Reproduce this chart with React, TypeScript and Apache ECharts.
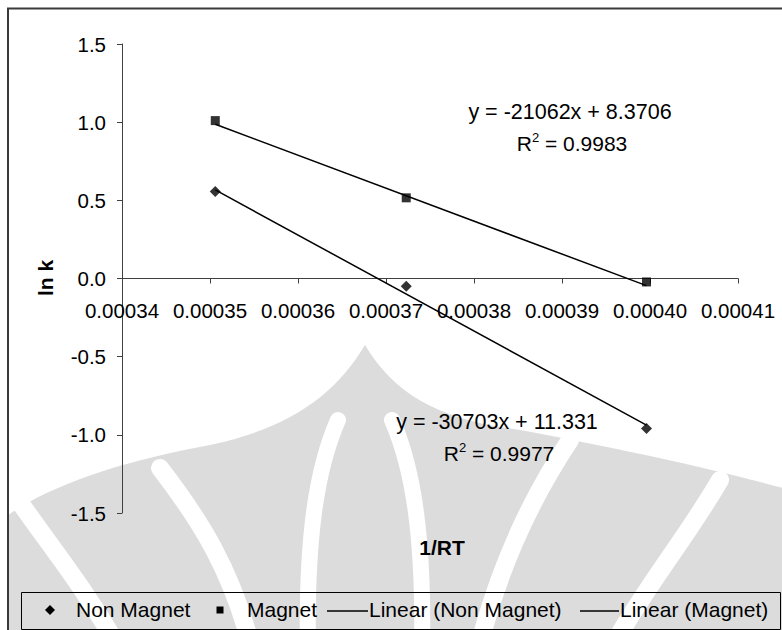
import React, { useEffect, useRef } from "react";
import * as echarts from "echarts";

// 1/RT values and ln k readings for both runs
const xNonMagnet = [0.0003506, 0.0003723, 0.0003996];
const yNonMagnet = [0.556, -0.05, -0.96];
const xMagnet = [0.0003506, 0.0003723, 0.0003996];
const yMagnet = [1.01, 0.516, -0.022];

const seriesNames = ["Non Magnet", "Magnet", "Linear (Non Magnet)", "Linear (Magnet)"];

// least-squares fits shown on the chart
const fitNonMagnet = { slope: -30703, intercept: 11.331, r2: "0.9977" };
const fitMagnet = { slope: -21062, intercept: 8.3706, r2: "0.9983" };

// axis ranges and tick steps
const xRange = [0.00034, 0.00041];
const xStep = 0.00001;
const yRange = [-1.5, 1.5];
const yStep = 0.5;

const axisTitleX = "1/RT";
const axisTitleY = "ln k";

const FONT = "'Liberation Sans', Arial, Helvetica, sans-serif";
const WM = "#dcdcdc";

// plot box in pixels
const GRID = { left: 122, right: 44, top: 44, bottom: 117 };
const CHART_H = 630;

// faint emblem drawn behind the plot
const emblemBase =
  "M8,515 C60,480 130,460 210,445 C290,428 335,395 365,345 C395,395 440,420 520,430 C600,445 700,465 790,490 L790,640 L8,640 Z";

function fitLine(fit: { slope: number; intercept: number }, xs: number[]) {
  const lo = Math.min(...xs);
  const hi = Math.max(...xs);
  return [lo, hi].map((x) => [x, fit.slope * x + fit.intercept]);
}

function equation(fit: { slope: number; intercept: number }) {
  return `y = ${fit.slope}x + ${fit.intercept}`;
}

function band(
  x1: number, y1: number, cx1: number, cy1: number,
  cx2: number, cy2: number, x2: number, y2: number, w: number
) {
  return {
    type: "bezierCurve",
    z: 0,
    silent: true,
    shape: { x1, y1, cpx1: cx1, cpy1: cy1, cpx2: cx2, cpy2: cy2, x2, y2 },
    style: { stroke: "#ffffff", lineWidth: w, fill: null, lineCap: "round" },
  };
}

export default function App() {
  const ref = useRef<HTMLDivElement>(null);

  useEffect(() => {
    if (!ref.current) return;
    echarts.graphic.registerShape("emblemBase", echarts.graphic.extendPath(emblemBase, {}));
    const chart = echarts.init(ref.current, undefined, { renderer: "svg" });

    const textStyle = { fontFamily: FONT, fontSize: 21, fill: "#000" };
    const rich = {
      a: { fontFamily: FONT, fontSize: 21, color: "#000", lineHeight: 24 },
      s: { fontFamily: FONT, fontSize: 13, color: "#000", verticalAlign: "top", lineHeight: 24, padding: [0, 0, 8, 0] },
    };

    // the x axis crosses at y = 0, so lift it from the bottom edge of the plot
    const plotH = CHART_H - GRID.top - GRID.bottom;
    const zeroOffset = -plotH * (0 - yRange[0]) / (yRange[1] - yRange[0]);

    const legendY = 610;

    const option: any = {
      animation: false,
      backgroundColor: "#ffffff",
      textStyle: { fontFamily: FONT },
      grid: { ...GRID, containLabel: false, outerBoundsMode: "none" },
      xAxis: {
        type: "value",
        min: xRange[0],
        max: xRange[1],
        interval: xStep,
        offset: zeroOffset,
        axisLine: { onZero: false, lineStyle: { color: "#404040", width: 1 } },
        axisTick: { show: true, length: 5, lineStyle: { color: "#404040" } },
        axisLabel: {
          formatter: (v: number) => v.toFixed(5),
          fontSize: 20.5,
          color: "#000",
          margin: 21,
          fontFamily: FONT,
          showMinLabel: true,
          showMaxLabel: true,
        },
        splitLine: { show: false },
      },
      yAxis: {
        type: "value",
        min: yRange[0],
        max: yRange[1],
        interval: yStep,
        axisLine: { show: true, onZero: false, lineStyle: { color: "#404040", width: 1 } },
        axisTick: { show: true, length: 5, lineStyle: { color: "#404040" } },
        axisLabel: {
          formatter: (v: number) => v.toFixed(1),
          fontSize: 20.5,
          color: "#000",
          margin: 16,
          fontFamily: FONT,
        },
        splitLine: { show: false },
      },
      series: [
        {
          name: seriesNames[2],
          type: "line",
          data: fitLine(fitNonMagnet, xNonMagnet),
          showSymbol: false,
          silent: true,
          z: 3,
          lineStyle: { color: "#000", width: 1.5 },
        },
        {
          name: seriesNames[3],
          type: "line",
          data: fitLine(fitMagnet, xMagnet),
          showSymbol: false,
          silent: true,
          z: 3,
          lineStyle: { color: "#000", width: 1.5 },
        },
        {
          name: seriesNames[0],
          type: "scatter",
          data: xNonMagnet.map((x, i) => [x, yNonMagnet[i]]),
          symbol: "diamond",
          symbolSize: 11,
          z: 4,
          itemStyle: { color: "#000" },
        },
        {
          name: seriesNames[1],
          type: "scatter",
          data: xMagnet.map((x, i) => [x, yMagnet[i]]),
          symbol: "rect",
          symbolSize: 9,
          z: 4,
          itemStyle: { color: "#000" },
        },
      ],
      graphic: {
        elements: [
          // emblem
          { type: "emblemBase", z: 0, silent: true, style: { fill: WM } },
          band(338, 420, 316, 470, 306, 540, 308, 650, 16),
          band(392, 420, 414, 470, 424, 540, 422, 650, 16),
          band(160, 468, 200, 520, 232, 570, 252, 650, 18),
          band(570, 440, 530, 500, 498, 570, 478, 650, 18),
          band(10, 488, 45, 540, 80, 580, 120, 650, 18),
          band(720, 480, 685, 540, 650, 580, 610, 650, 18),
          // chart frame
          {
            type: "rect",
            z: 1,
            silent: true,
            shape: { x: 8, y: 8.5, width: 800, height: 660 },
            style: { fill: null, stroke: "#3a3a3a", lineWidth: 2 },
          },
          // axis titles
          {
            type: "text",
            z: 5,
            x: 45,
            y: 278,
            rotation: Math.PI / 2,
            style: { ...textStyle, fontWeight: "bold", text: axisTitleY, align: "center", verticalAlign: "middle" },
          },
          {
            type: "text",
            z: 5,
            x: 442,
            y: 547,
            style: { ...textStyle, fontWeight: "bold", text: axisTitleX, align: "center", verticalAlign: "middle" },
          },
          // fit labels
          {
            type: "text",
            z: 5,
            x: 570,
            y: 112,
            style: { ...textStyle, fontSize: 21.5, text: equation(fitMagnet), align: "center", verticalAlign: "middle" },
          },
          {
            type: "text",
            z: 5,
            x: 572,
            y: 143,
            style: { text: `{a|R}{s|2}{a| = ${fitMagnet.r2}}`, rich, align: "center", verticalAlign: "middle" },
          },
          {
            type: "text",
            z: 5,
            x: 497,
            y: 422,
            style: { ...textStyle, fontSize: 21.5, text: equation(fitNonMagnet), align: "center", verticalAlign: "middle" },
          },
          {
            type: "text",
            z: 5,
            x: 499,
            y: 453,
            style: { text: `{a|R}{s|2}{a| = ${fitNonMagnet.r2}}`, rich, align: "center", verticalAlign: "middle" },
          },
          // legend
          {
            type: "rect",
            z: 5,
            silent: true,
            shape: { x: 21.5, y: 592.5, width: 759, height: 37 },
            style: { fill: null, stroke: "#000", lineWidth: 1 },
          },
          {
            type: "polygon",
            z: 5,
            shape: { points: [[50, legendY - 5], [55, legendY], [50, legendY + 5], [45, legendY]] },
            style: { fill: "#000" },
          },
          { type: "text", z: 5, x: 76, y: legendY - 1, style: { ...textStyle, text: seriesNames[0], verticalAlign: "middle" } },
          { type: "rect", z: 5, shape: { x: 216.5, y: legendY - 3.5, width: 7, height: 7 }, style: { fill: "#000" } },
          { type: "text", z: 5, x: 247, y: legendY - 1, style: { ...textStyle, text: seriesNames[1], verticalAlign: "middle" } },
          { type: "line", z: 5, shape: { x1: 327, y1: legendY + 1, x2: 368, y2: legendY + 1 }, style: { stroke: "#000", lineWidth: 1.5 } },
          { type: "text", z: 5, x: 369, y: legendY - 1, style: { ...textStyle, text: seriesNames[2], verticalAlign: "middle" } },
          { type: "line", z: 5, shape: { x1: 580, y1: legendY + 1, x2: 619, y2: legendY + 1 }, style: { stroke: "#000", lineWidth: 1.5 } },
          { type: "text", z: 5, x: 620, y: legendY - 1, style: { ...textStyle, text: seriesNames[3], verticalAlign: "middle" } },
        ],
      },
    };

    chart.setOption(option);
    return () => chart.dispose();
  }, []);

  return (
    <div
      ref={ref}
      style={{ position: "fixed", left: 0, top: 0, width: 782, height: 630 }}
    />
  );
}
